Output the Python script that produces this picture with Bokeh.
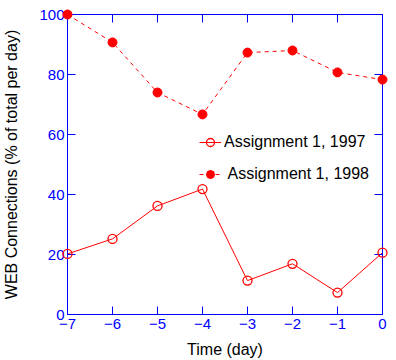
from bokeh.plotting import figure
from bokeh.models import LinearAxis, FixedTicker, Range1d, Legend, LegendItem
from bokeh.embed import file_html
from bokeh.resources import INLINE

days = [-7, -6, -5, -4, -3, -2, -1, 0]
conn_1997 = [20.2, 25.2, 36.2, 41.8, 11.3, 16.9, 7.3, 20.6]
conn_1998 = [100.0, 90.7, 74.0, 66.7, 87.3, 88.0, 80.7, 78.3]
x_ticks = [-7, -6, -5, -4, -3, -2, -1, 0]
y_ticks = [0, 20, 40, 60, 80, 100]
label_1997 = "Assignment 1, 1997"
label_1998 = " Assignment 1, 1998"

FONT = "Liberation Sans"
BLUE = "#0000ff"
RED = "#ff0000"

p = figure(width=396, height=360, output_backend="svg", toolbar_location=None,
           x_range=Range1d(-7, 0), y_range=Range1d(0, 100),
           min_border_left=63, min_border_right=14, min_border_top=14, min_border_bottom=46,
           x_axis_label="Time (day)", y_axis_label="WEB Connections (% of total per day)")
p.grid.visible = False
p.outline_line_color = BLUE
p.background_fill_color = "white"
p.border_fill_color = "white"

for ax, ticks in ((p.xaxis[0], x_ticks), (p.yaxis[0], y_ticks)):
    ax.ticker = FixedTicker(ticks=ticks)
    ax.axis_line_color = BLUE
    ax.major_tick_line_color = BLUE
    ax.major_tick_in = 8
    ax.major_tick_out = 0
    ax.minor_tick_line_color = None
    ax.major_label_text_color = BLUE
    ax.major_label_text_font = FONT
    ax.major_label_text_font_size = "15px"
    ax.axis_label_text_font = FONT
    ax.axis_label_text_font_size = "16px"
    ax.axis_label_text_font_style = "normal"
    ax.axis_label_text_color = "black"
p.xaxis[0].major_label_standoff = 4
p.xaxis[0].axis_label_standoff = 9
p.yaxis[0].major_label_standoff = 3
p.yaxis[0].axis_label_standoff = 16

for loc, ticks in (("above", x_ticks), ("right", y_ticks)):
    ax = LinearAxis(ticker=FixedTicker(ticks=ticks), axis_line_color=BLUE,
                    major_tick_line_color=BLUE, major_tick_in=8, major_tick_out=0,
                    minor_tick_line_color=None, major_label_text_color=None,
                    major_label_text_font_size="1px",
                    major_label_overrides={t: "" for t in ticks},
                    major_label_standoff=0)
    p.add_layout(ax, loc)

l97 = p.line(days, conn_1997, line_color=RED, line_width=1)
m97 = p.scatter(days, conn_1997, marker="circle", size=9, fill_color=None,
                line_color=RED, line_width=1.3, level="overlay")
l98 = p.line(days, conn_1998, line_color=RED, line_width=1, line_dash="4 4")
m98 = p.scatter(days, conn_1998, marker="circle", size=9, fill_color=RED,
                line_color=RED, level="overlay")

legend = Legend(items=[LegendItem(label=label_1997, renderers=[l97, m97]),
                       LegendItem(label=label_1998, renderers=[l98, m98])],
                location=(132, 130), border_line_color=None, background_fill_alpha=0,
                padding=0, margin=0, spacing=12, glyph_width=22, glyph_height=20,
                label_height=20, label_standoff=3, label_text_font=FONT,
                label_text_font_size="16px", label_text_color="black")
p.add_layout(legend, "center")

open("out.html", "w").write(file_html(p, INLINE))
